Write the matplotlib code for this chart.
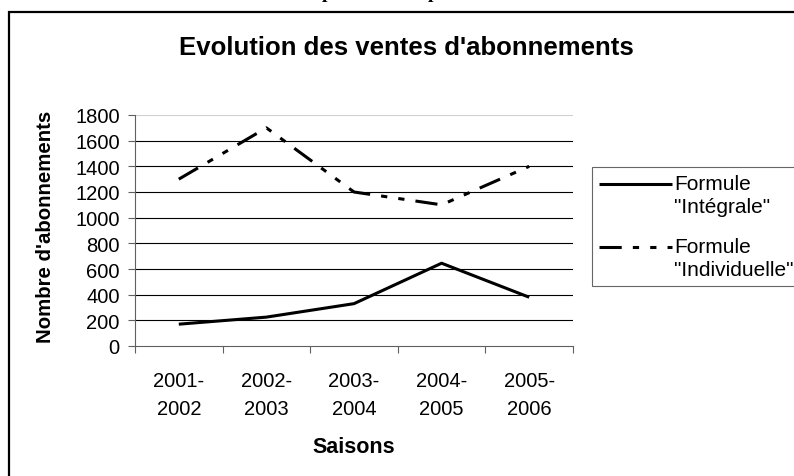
import matplotlib.pyplot as plt
from matplotlib.patches import Rectangle

plt.rcParams['font.family'] = ['Liberation Sans', 'DejaVu Sans']
plt.rcParams['lines.scale_dashes'] = False

saisons = ['2001-\n2002', '2002-\n2003', '2003-\n2004', '2004-\n2005', '2005-\n2006']
integrale = [170, 225, 330, 645, 380]
individuelle = [1300, 1700, 1200, 1100, 1400]

W, H = 794, 477
fig = plt.figure(figsize=(W / 100, H / 100), dpi=100)

# outer chart frame (cut off at right and bottom)
fig.patches.append(Rectangle((9 / W, -0.05), 1.1, 1 - 13 / H + 0.05, transform=fig.transFigure,
                             fill=False, edgecolor='black', linewidth=1.6, clip_on=False))

# cropped heading above the frame: only descenders visible
for xp in (327, 433):
    fig.text(xp / W, 1 + 1.5 / H, 'p', family='Liberation Serif', weight='bold',
             fontsize=14, ha='center', va='baseline')

ax = fig.add_axes([135 / W, 1 - 347 / H, (573 - 135) / W, (347 - 116) / H])
x = range(len(saisons))
ax.plot(x, integrale, color='black', linewidth=2.2, solid_capstyle='butt',
        label='Formule\n"Intégrale"')
ax.plot(x, individuelle, color='black', linewidth=2.2, dash_capstyle='butt',
        linestyle=(0, (16, 8, 4.5, 8, 4.5, 8)), label='Formule\n"Individuelle"')

ax.set_xlim(-0.5, 4.5)
ax.set_ylim(0, 1800)
ax.set_yticks(range(0, 1801, 200))
for v in range(200, 1601, 200):
    ax.axhline(v, color='black', linewidth=0.8, zorder=0)
ax.axhline(1800, color='#d0d0d0', linewidth=0.8, zorder=0)

ax.set_xticks([i + 0.5 for i in range(-1, 5)], minor=False)
ax.set_xticklabels([])
ax.set_xticks(list(x), minor=True)
ax.set_xticklabels(saisons, minor=True, fontsize=14.5, linespacing=1.6)
ax.tick_params(axis='x', which='major', direction='out', length=5, color='#606060', width=0.8)
ax.tick_params(axis='x', which='minor', length=0, pad=18)
ax.tick_params(axis='y', direction='out', length=5, color='#606060', width=0.8, labelsize=14.5, pad=6)

for s in ('top', 'right'):
    ax.spines[s].set_visible(False)
for s in ('left', 'bottom'):
    ax.spines[s].set_color('#606060')
    ax.spines[s].set_linewidth(0.8)

ax.set_xlabel('Saisons', fontsize=15.5, weight='bold')
ax.xaxis.set_label_coords(0.5, -(448 - 347) / 231, transform=ax.transAxes)
ax.xaxis.label.set_va('center')
ax.set_ylabel("Nombre d'abonnements", fontsize=14.7, weight='bold')
ax.yaxis.set_label_coords(-(135 - 46) / 438, 0.52)
ax.yaxis.label.set_va('center')

fig.text(406 / W, 1 - 48 / H, "Evolution des ventes d'abonnements", fontsize=18.5,
         weight='bold', ha='center', va='center')

leg = ax.legend(loc='upper left', bbox_to_anchor=(592 / W, 1 - 168 / H), bbox_transform=fig.transFigure,
                fontsize=15, frameon=True, fancybox=False, handlelength=3.5, handletextpad=0.1,
                borderpad=0.35, labelspacing=1.0, borderaxespad=0)
leg.get_frame().set_edgecolor('#404040')
leg.get_frame().set_linewidth(0.8)
for t in leg.get_texts():
    t.set_linespacing(1.25)
# legend keys sit level with the first line of each label
for ln in leg.get_lines():
    ln.set_ydata([y + 8 for y in ln.get_ydata()])

fig.savefig('out.png', dpi=100)
